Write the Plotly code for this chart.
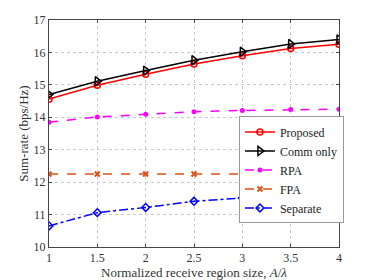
import plotly.graph_objects as go

x_vals = [1, 1.5, 2, 2.5, 3, 3.5, 4]
proposed = [14.56, 14.99, 15.33, 15.64, 15.90, 16.12, 16.25]
comm_only = [14.70, 15.11, 15.44, 15.76, 16.02, 16.26, 16.40]
rpa = [13.85, 14.01, 14.09, 14.17, 14.21, 14.24, 14.25]
fpa = [12.25, 12.25, 12.25, 12.25, 12.25, 12.25, 12.25]
separate = [10.65, 11.06, 11.22, 11.41, 11.51, 11.57, 11.66]

x_ticks = [1, 1.5, 2, 2.5, 3, 3.5, 4]
x_tick_text = ["1", "1.5", "2", "2.5", "3", "3.5", "4"]
y_ticks = [10, 11, 12, 13, 14, 15, 16, 17]

fig = go.Figure()
fig.add_trace(go.Scatter(x=x_vals, y=proposed, name="Proposed", mode="lines+markers",
                         line=dict(color="red", width=1.5),
                         marker=dict(symbol="circle-open", size=6, color="red", line=dict(width=1.5))))
fig.add_trace(go.Scatter(x=x_vals, y=comm_only, name="Comm only", mode="lines+markers",
                         line=dict(color="black", width=1.5),
                         marker=dict(symbol="triangle-right-open", size=8, color="black", line=dict(width=1.5))))
fig.add_trace(go.Scatter(x=x_vals, y=rpa, name="RPA", mode="lines+markers",
                         line=dict(color="#FF00FF", width=1.5, dash="dash"),
                         marker=dict(symbol="circle", size=5, color="#FF00FF")))
fig.add_trace(go.Scatter(x=x_vals, y=fpa, name="FPA", mode="lines+markers",
                         line=dict(color="#D95319", width=1.5, dash="dash"),
                         marker=dict(symbol="x-thin-open", size=5, color="#D95319", line=dict(width=2, color="#D95319"))))
fig.add_trace(go.Scatter(x=x_vals, y=separate, name="Separate", mode="lines+markers",
                         line=dict(color="blue", width=1.5, dash="dashdot"),
                         marker=dict(symbol="diamond-open", size=6, color="blue", line=dict(width=1.5))))

axis_common = dict(showline=True, linecolor="#444", linewidth=1, mirror="ticks",
                   ticks="inside", ticklen=3, tickcolor="#444",
                   showgrid=True, gridcolor="#c8c8c8", griddash="dot", gridwidth=1,
                   zeroline=False, automargin=False,
                   tickfont=dict(family="Liberation Serif", size=12, color="#333"))

# page body has an 8px default margin, so the figure is sized/offset to compensate
fig.update_layout(
    width=366, height=272,
    margin=dict(l=41, r=35, t=12, b=33, autoexpand=False),
    paper_bgcolor="white", plot_bgcolor="white",
    font=dict(family="Liberation Serif", size=12, color="#333"),
    xaxis=dict(range=[1, 4], tickvals=x_ticks, ticktext=x_tick_text,
               title=dict(text="Normalized receive region size, <i>A</i>/<i>λ</i>", standoff=3,
                          font=dict(size=13)), **axis_common),
    yaxis=dict(range=[10, 17], tickvals=y_ticks,
               title=dict(text="Sum-rate (bps/Hz)", standoff=2, font=dict(size=13)), **axis_common),
    legend=dict(x=0.655, y=0.575, xanchor="left", yanchor="top",
                bgcolor="white", bordercolor="#999", borderwidth=1,
                font=dict(family="Liberation Serif", size=12, color="#222"),
                tracegroupgap=0, itemwidth=30),
    showlegend=True,
)

fig.write_html("out.html")
